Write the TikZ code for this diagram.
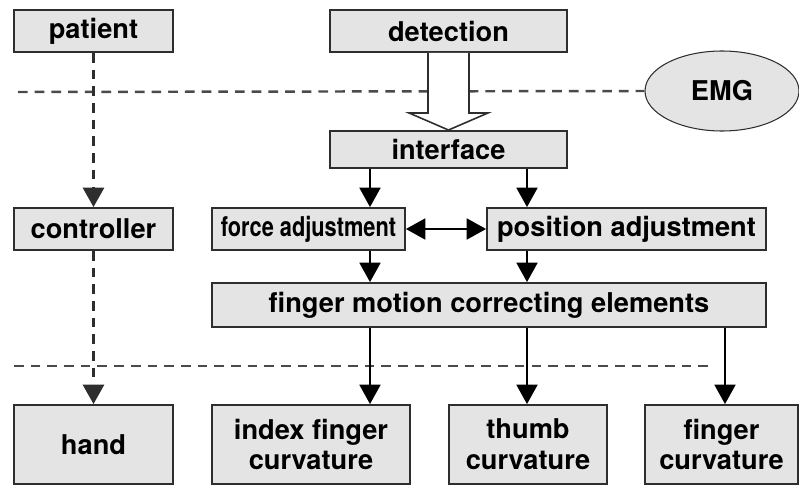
\documentclass[tikz,border=0pt]{standalone}
\usepackage{fontspec}
\setmainfont{TeX Gyre Heros}
\usepackage{graphicx}
\usepackage{tikz}
\usetikzlibrary{positioning,arrows.meta,calc,shapes.geometric}
\definecolor{boxfill}{HTML}{E4E4E4}
\definecolor{edge}{HTML}{2E2E2E}
\definecolor{dashc}{HTML}{4A4A4A}
\tikzset{
  blk/.style={draw=edge, fill=boxfill, line width=1.1pt, inner sep=0pt,
              font=\fontsize{15.5}{17.6}\selectfont\bfseries,
              minimum height=8.4mm, align=center},
  arr/.style={-{Triangle[length=11pt,width=12pt]}, line width=0.9pt, color=black},
  dblarr/.style={{Triangle[length=11pt,width=12pt]}-{Triangle[length=11pt,width=12pt]},
              line width=0.9pt, color=black},
  dasharr/.style={arr, line width=1.3pt, dash pattern=on 5.5pt off 4pt, color=edge},
  sepline/.style={line width=1.4pt, color=dashc, dash pattern=on 5.5pt off 4pt},
  hollow/.style={line width=0.9pt, draw=edge, fill=white},
}

\begin{document}
\begin{tikzpicture}
  \useasboundingbox (0,0) rectangle (15.98,9.72);

  % arrow columns
  \coordinate (colA) at (7.40,0);
  \coordinate (colB) at (10.54,0);
  \coordinate (colC) at (14.50,0);

  % top row + EMG
  \node[blk, minimum width=3.18cm] (patient)   at (1.87,9.10) {patient};
  \node[blk, minimum width=4.74cm] (detection) at (8.97,9.10) {detection};
  \node[ellipse, draw=edge, fill=boxfill, line width=0.6pt,
        minimum width=3.08cm, minimum height=1.6cm,
        font=\fontsize{15.5}{17.6}\selectfont\bfseries] (emg) at (14.44,7.90) {EMG};

  % middle
  \node[blk, minimum width=4.74cm, minimum height=7.4mm] (interface) at (8.97,6.73) {interface};
  \node[blk, minimum width=3.18cm] (controller) at (1.87,5.14) {controller};
  \node[blk, minimum width=3.86cm] (force)      at (6.17,5.14) {\scalebox{0.8}[1]{force adjustment}};
  \node[blk, minimum width=5.58cm] (position)   at (12.53,5.14) {position adjustment};
  \node[blk, minimum width=11.08cm, minimum height=8.8mm] (motion) at (9.78,3.62)
        {finger motion correcting elements};

  % bottom row
  \node[blk, minimum width=3.18cm, minimum height=1.58cm] (hand)   at (1.87,0.83) {hand};
  \node[blk, minimum width=3.96cm, minimum height=1.58cm] (index)  at (6.22,0.83) {index finger\\curvature};
  \node[blk, minimum width=3.16cm, minimum height=1.58cm] (thumb)  at (10.56,0.83) {thumb\\curvature};
  \node[blk, minimum width=3.06cm, minimum height=1.58cm] (fingerc) at (14.43,0.83) {finger\\curvature};

  % dashed separators
  \draw[sepline] (0.36,7.88) -- (emg.west);
  \draw[sepline] (0.28,2.40) -- (14.30,2.40);

  % hollow arrow detection -> interface
  \draw[hollow] ($(detection.south)+(-0.41,0)$) -- ++(0,-1.2) -- ++(-0.38,0)
    -- (interface.north) -- ($(detection.south)+(0.79,-1.2)$) -- ++(-0.38,0)
    -- ($(detection.south)+(0.41,0)$);

  % left column
  \draw[dasharr] (patient.south) -- (controller.north);
  \draw[dasharr] (controller.south) -- (hand.north);

  % right side flow
  \draw[arr] (interface.south -| colA) -- (force.north -| colA);
  \draw[arr] (interface.south -| colB) -- (position.north -| colB);
  \draw[dblarr] (force.east) -- (position.west);
  \draw[arr] (force.south -| colA) -- (motion.north -| colA);
  \draw[arr] (position.south -| colB) -- (motion.north -| colB);
  \draw[arr] (motion.south -| colA) -- (index.north -| colA);
  \draw[arr] (motion.south -| colB) -- (thumb.north -| colB);
  \draw[arr] (motion.south -| colC) -- (fingerc.north -| colC);
\end{tikzpicture}
\end{document}
